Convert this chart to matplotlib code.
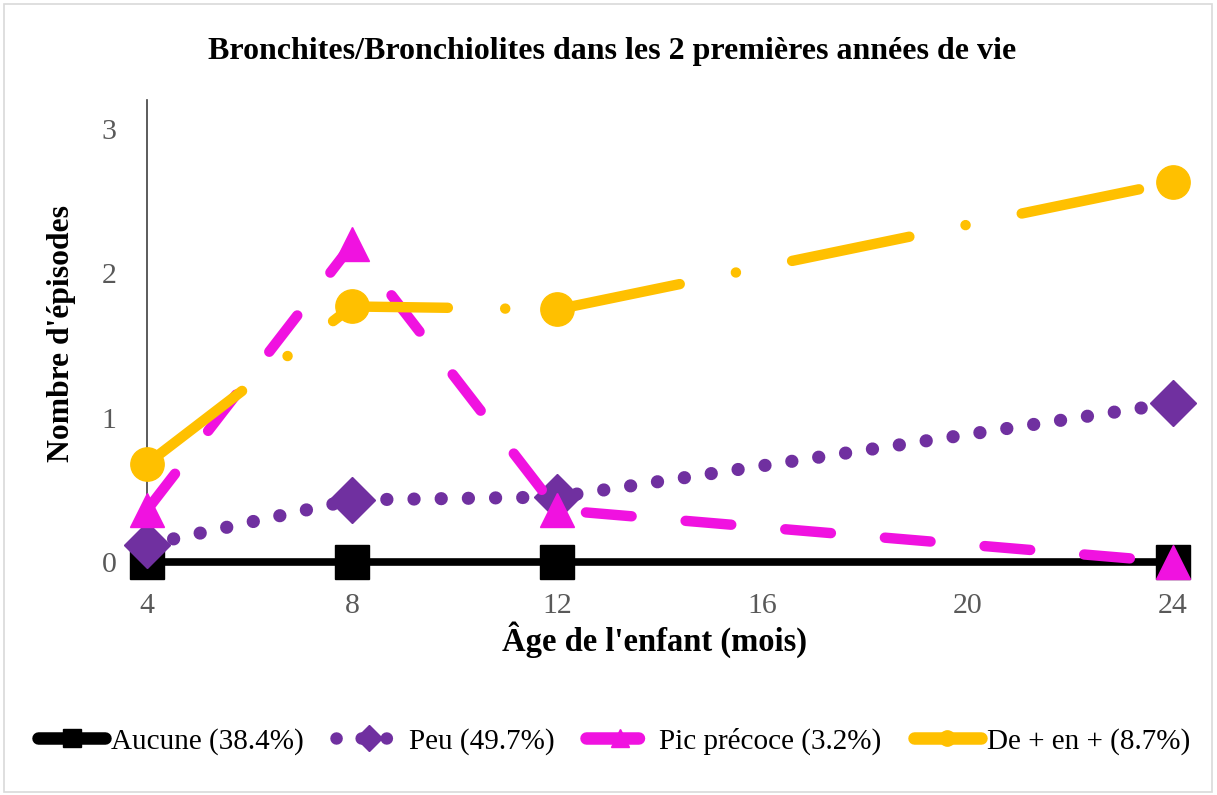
import matplotlib
matplotlib.use("Agg")
import matplotlib.pyplot as plt
from matplotlib.lines import Line2D
from matplotlib.patches import Rectangle

ages = [4, 8, 12, 24]
aucune = [0.0, 0.0, 0.0, 0.0]
peu = [0.12, 0.43, 0.45, 1.10]
pic = [0.36, 2.20, 0.36, 0.0]
deplus = [0.68, 1.77, 1.75, 2.63]

labels = ["Aucune (38.4%)", "Peu (49.7%)", "Pic précoce (3.2%)", "De + en + (8.7%)"]
xticks = [4, 8, 12, 16, 20, 24]
yticks = [0, 1, 2, 3]

title = "Bronchites/Bronchiolites dans les 2 premières années de vie"
xlabel = "Âge de l'enfant (mois)"
ylabel = "Nombre d'épisodes"

plt.rcParams['font.family'] = ['Liberation Serif', 'DejaVu Serif']

W, H = 1217, 795
fig = plt.figure(figsize=(W / 100, H / 100), dpi=100)
fig.patches.append(Rectangle((4 / W, 3 / H), (W - 9) / W, (H - 7) / H, transform=fig.transFigure,
                             fill=False, edgecolor='#D9D9D9', linewidth=1.2))

ax = fig.add_axes([147 / W, 1 - 562 / H, (1173 - 147) / W, (562 - 100) / H])
ax.set_xlim(4, 24)
ax.set_ylim(0, 3.2)

purple = '#7030A0'
magenta = '#F012E0'
gold = '#FFC000'

ax.plot(ages, aucune, color='black', lw=5.5, marker='s', ms=25, clip_on=False,
        solid_capstyle='round', zorder=3)
ax.plot(ages, peu, color=purple, lw=9.5, dashes=(0.01, 2.05), dash_capstyle='round',
        marker='D', ms=23, clip_on=False, zorder=4)
ax.plot(ages, pic, color=magenta, lw=7.5, dashes=(4.4, 5.2), dash_capstyle='round',
        marker='^', ms=25, clip_on=False, zorder=5)
ax.plot(ages, deplus, color=gold, lw=7.5, dashes=(11.5, 5.5, 0.01, 5.5), dash_capstyle='round',
        marker='o', ms=24, clip_on=False, zorder=6)

for s in ['top', 'right', 'bottom']:
    ax.spines[s].set_visible(False)
ax.spines['left'].set_color('#404040')
ax.spines['left'].set_linewidth(1.2)
ax.set_xticks(xticks)
ax.set_yticks(yticks)
ax.tick_params(axis='both', length=0, labelsize=21.5, labelcolor='#595959')
ax.tick_params(axis='y', pad=22)
ax.tick_params(axis='x', pad=22)

fig.text(612 / W, 1 - 52 / H, title, ha='center', va='center', fontsize=23, fontweight='bold')
fig.text(655 / W, 1 - 640 / H, xlabel, ha='center', va='center', fontsize=23.5, fontweight='bold')
fig.text(62 / W, 1 - 333 / H, ylabel, ha='center', va='center', fontsize=22.8, fontweight='bold', rotation=90)

handles = [
    Line2D([], [], color='black', lw=9, marker='s', ms=13, solid_capstyle='round'),
    Line2D([], [], color=purple, lw=9, dashes=(0.01, 2.0), dash_capstyle='round', marker='D', ms=13),
    Line2D([], [], color=magenta, lw=9, dashes=(4.2, 5.2), dash_capstyle='round', marker='^', ms=13),
    Line2D([], [], color=gold, lw=9, solid_capstyle='round', marker='o', ms=11),
]
fig.legend(handles, labels, loc='center', bbox_to_anchor=(614 / W, 1 - 741 / H), ncol=4,
           frameon=False, fontsize=21, handlelength=2.3, handletextpad=0.2, columnspacing=1.1,
           borderpad=0, borderaxespad=0)

fig.savefig('out.png', dpi=100)
